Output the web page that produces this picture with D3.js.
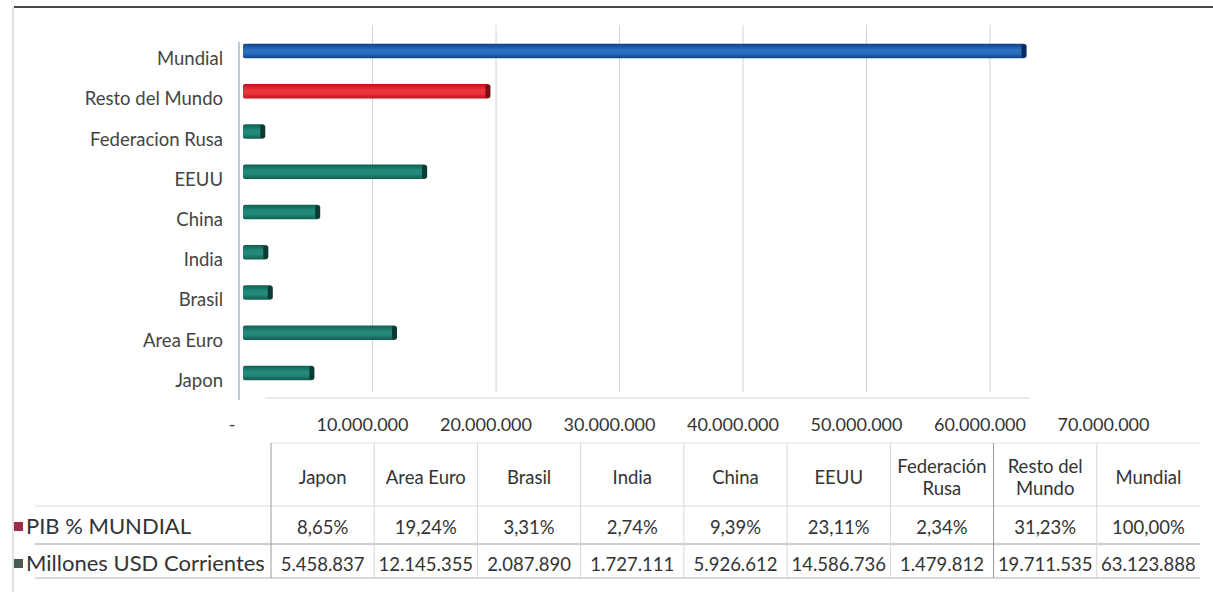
<!DOCTYPE html>
<html><head><meta charset="utf-8">
<script src="https://cdn.jsdelivr.net/npm/d3@7"></script>
<style>
body{margin:0;background:#fff}
svg{display:block}
text{font-family:Lato,"Open Sans",sans-serif}
</style></head>
<body><svg id="c" width="1213" height="592"></svg>
<script>
// ---- data ----
const categories = ["Japon","Area Euro","Brasil","India","China","EEUU","Federacion Rusa","Resto del Mundo","Mundial"];
const tableHeaders = [["Japon"],["Area Euro"],["Brasil"],["India"],["China"],["EEUU"],["Federación","Rusa"],["Resto del","Mundo"],["Mundial"]];
const millonesUSD = [5458837,12145355,2087890,1727111,5926612,14586736,1479812,19711535,63123888];
const millonesLabels = ["5.458.837","12.145.355","2.087.890","1.727.111","5.926.612","14.586.736","1.479.812","19.711.535","63.123.888"];
const pibPct = ["8,65%","19,24%","3,31%","2,74%","9,39%","23,11%","2,34%","31,23%","100,00%"];
const xTicks = [0,10000000,20000000,30000000,40000000,50000000,60000000,70000000];
const xTickLabels = ["-","10.000.000","20.000.000","30.000.000","40.000.000","50.000.000","60.000.000","70.000.000"];
const rowLabels = ["PIB % MUNDIAL","Millones USD Corrientes"];

// ---- layout ----
const svg = d3.select("#c");
const depth = 8;
const x = d3.scaleLinear().domain([0,70000000]).range([241,1105.5]);
const y = d3.scaleBand().domain(categories.slice().reverse()).range([31,393]).paddingInner(0.64).paddingOuter(0.32);

const palettes = {
  blue: {mid:"#2a6fc0", edge:"#123f82", cap:"#0b2a5a"},
  red:  {mid:"#f0323c", edge:"#b8121c", cap:"#7a0c12"},
  teal: {mid:"#23897a", edge:"#0f5e50", cap:"#0a3a32"}
};
function palKey(c){ return c==="Mundial" ? "blue" : (c==="Resto del Mundo" ? "red" : "teal"); }

const defs = svg.append("defs");
Object.entries(palettes).forEach(([k,p])=>{
  const g = defs.append("linearGradient").attr("id","g_"+k).attr("x1",0).attr("y1",0).attr("x2",0).attr("y2",1);
  g.append("stop").attr("offset","0%").attr("stop-color",p.edge);
  g.append("stop").attr("offset","40%").attr("stop-color",p.mid);
  g.append("stop").attr("offset","65%").attr("stop-color",p.mid);
  g.append("stop").attr("offset","100%").attr("stop-color",p.edge);
});

// frame
svg.append("line").attr("x1",14).attr("x2",1213).attr("y1",7).attr("y2",7).attr("stroke","#4a4a4a").attr("stroke-width",2);
svg.append("line").attr("x1",13).attr("x2",13).attr("y1",7).attr("y2",592).attr("stroke","#e2e2e2").attr("stroke-width",2);

// gridlines (3D back wall offset)
svg.append("g").selectAll("line").data(xTicks.slice(1,7)).join("line")
  .attr("x1",d=>x(d)+depth).attr("x2",d=>x(d)+depth)
  .attr("y1",25).attr("y2",392)
  .attr("stroke","#d4d4d4").attr("stroke-width",1);
// floor / axis lines
svg.append("line").attr("x1",265).attr("x2",1030).attr("y1",398).attr("y2",398).attr("stroke","#d8d8d8");
svg.append("line").attr("x1",239).attr("x2",239).attr("y1",42).attr("y2",400).attr("stroke","#7f93b0").attr("stroke-width",1);

// x tick labels
svg.append("g").selectAll("text").data(xTicks).join("text")
  .attr("x",(d,i)=>i===0 ? x(d)-9 : x(d)-2).attr("y",431)
  .attr("text-anchor","middle").attr("font-size",18).attr("fill","#333")
  .text((d,i)=>xTickLabels[i]);

// y labels
svg.append("g").selectAll("text").data(categories).join("text")
  .attr("x",223).attr("y",c=>y(c)+y.bandwidth()/2+14)
  .attr("text-anchor","end").attr("font-size",18.5).attr("fill","#444")
  .text(c=>c);

// bars
const bars = svg.append("g").selectAll("g").data(categories).join("g");
bars.append("rect")
  .attr("x",x(0)+2).attr("y",c=>y(c))
  .attr("width",(c,i)=>x(millonesUSD[i])-x(0)+3).attr("height",y.bandwidth())
  .attr("rx",2)
  .attr("fill",c=>"url(#g_"+palKey(c)+")");
bars.append("rect")
  .attr("x",(c,i)=>x(millonesUSD[i])+1).attr("y",c=>y(c)+0.5)
  .attr("width",5).attr("height",y.bandwidth()-1).attr("rx",2)
  .attr("fill",c=>palettes[palKey(c)].cap);

// ---- data table ----
const tx = d3.scaleBand().domain(categories).range([271,1200]);
const tTop=443, tHead=506, tMid=544, tBot=578;
const tg = svg.append("g");
tg.append("line").attr("x1",271).attr("x2",1200).attr("y1",tTop).attr("y2",tTop).attr("stroke","#e6e6e6");
tg.append("line").attr("x1",35).attr("x2",1200).attr("y1",tHead).attr("y2",tHead).attr("stroke","#dcdcdc");
tg.append("line").attr("x1",35).attr("x2",1200).attr("y1",tMid).attr("y2",tMid).attr("stroke","#9a9a9a");
tg.append("line").attr("x1",35).attr("x2",1200).attr("y1",tBot).attr("y2",tBot).attr("stroke","#b5b5b5");
tg.selectAll("line.v").data(categories).join("line").attr("class","v")
  .attr("x1",c=>tx(c)).attr("x2",c=>tx(c)).attr("y1",tTop).attr("y2",tBot)
  .attr("stroke",(c,i)=>(i===0||i===7)?"#9a9a9a":"#d6d6d6");

const fs = 18.5;
// headers
tg.selectAll("text.h").data(categories).join("text").attr("class","h")
  .attr("x",c=>tx(c)+tx.bandwidth()/2)
  .attr("text-anchor","middle").attr("font-size",fs).attr("fill","#333")
  .each(function(c,i){
    const lines = tableHeaders[i];
    const t = d3.select(this);
    lines.forEach((l,j)=>{
      t.append("tspan").attr("x",tx(c)+tx.bandwidth()/2)
       .attr("y", lines.length===1 ? 484 : 473 + j*22).text(l);
    });
  });
// rows
tg.selectAll("text.p").data(categories).join("text").attr("class","p")
  .attr("x",c=>tx(c)+tx.bandwidth()/2).attr("y",534)
  .attr("text-anchor","middle").attr("font-size",fs).attr("fill","#333")
  .text((c,i)=>pibPct[i]);
tg.selectAll("text.m").data(categories).join("text").attr("class","m")
  .attr("x",c=>tx(c)+tx.bandwidth()/2).attr("y",571)
  .attr("text-anchor","middle").attr("font-size",fs).attr("fill","#333")
  .text((c,i)=>millonesLabels[i]);

// row labels with legend keys
const keyColors = ["#9c2a4c","#4a5a55"];
rowLabels.forEach((r,i)=>{
  const yy = i===0 ? 534 : 571;
  tg.append("rect").attr("x",14).attr("y",yy-12).attr("width",9).attr("height",9).attr("fill",keyColors[i]);
  tg.append("text").attr("x",26).attr("y",yy).attr("font-size",22).attr("fill","#333").text(r);
});
</script>
</body></html>
